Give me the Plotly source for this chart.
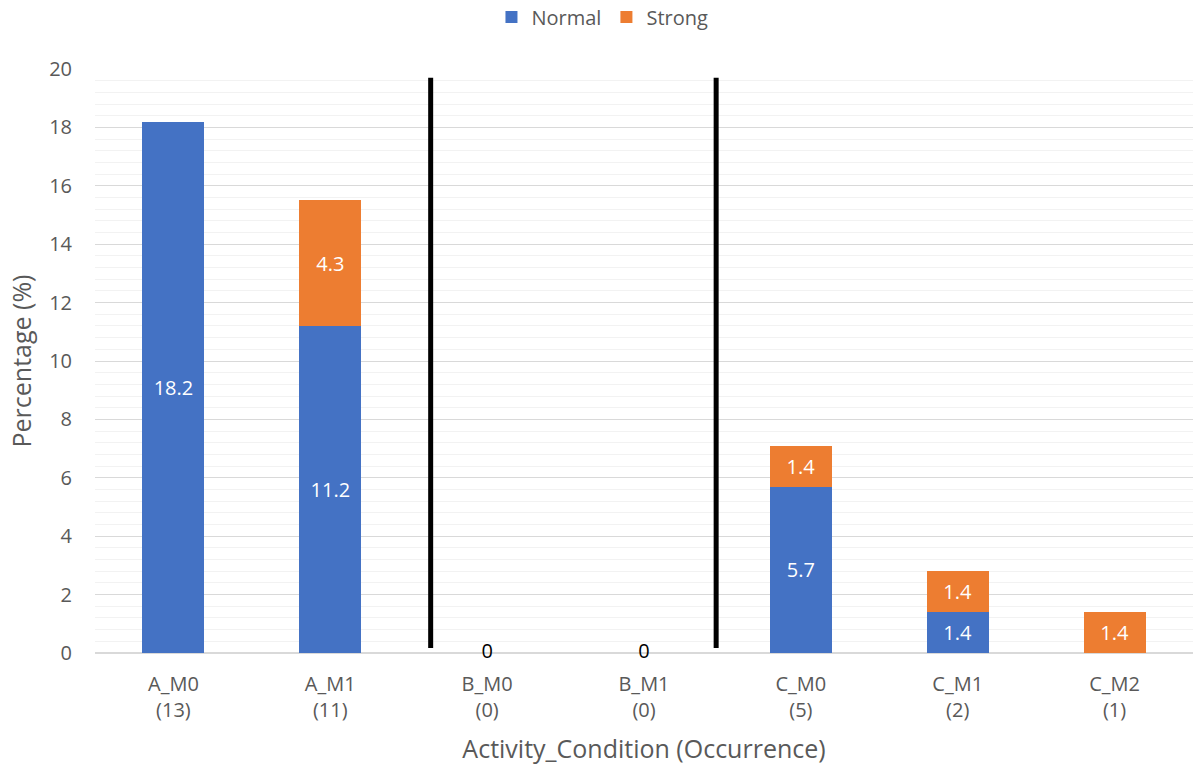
import plotly.graph_objects as go

categories = ["A_M0", "A_M1", "B_M0", "B_M1", "C_M0", "C_M1", "C_M2"]
occurrences = [13, 11, 0, 0, 5, 2, 1]
normal = [18.2, 11.2, 0, 0, 5.7, 1.4, None]
strong = [None, 4.3, None, None, 1.4, 1.4, 1.4]

# group separators, in category-index units
separators = [1.64, 3.46]

tick_text = [f"{c}<br>({n})" for c, n in zip(categories, occurrences)]
x_idx = list(range(len(categories)))

BLUE = "#4472C4"
ORANGE = "#ED7D31"
GRAY = "#595959"
FONT = "Open Sans"


def labels(vals):
    return [("" if (v is None or v == 0) else f"{v:g}") for v in vals]


fig = go.Figure()
fig.add_trace(go.Bar(
    name="Normal", x=x_idx, y=normal, marker_color=BLUE, marker_line_width=0,
    text=labels(normal), textposition="inside", insidetextanchor="middle",
    textfont=dict(color="white", size=20, family=FONT),
))
fig.add_trace(go.Bar(
    name="Strong", x=x_idx, y=strong, marker_color=ORANGE, marker_line_width=0,
    text=labels(strong), textposition="inside", insidetextanchor="middle",
    textfont=dict(color="white", size=20, family=FONT),
))

# labels for the zero-height bars, sitting on the baseline
zero_x = [i for i, v in enumerate(normal) if v == 0]
zero_y = [normal[i] for i in zero_x]
fig.add_trace(go.Scatter(
    x=zero_x, y=zero_y, mode="text", text=[f"{v:g}" for v in zero_y],
    textposition="middle center", textfont=dict(color="black", size=20, family=FONT),
    showlegend=False, hoverinfo="skip", cliponaxis=False,
))

for s in separators:
    fig.add_shape(type="line", x0=s, x1=s, y0=0.17, y1=19.7, xref="x", yref="y",
                  line=dict(color="black", width=5))

fig.update_layout(
    width=1193, height=771,
    margin=dict(l=95, r=0, t=69, b=118),
    barmode="stack", bargap=0.605,
    plot_bgcolor="white", paper_bgcolor="white",
    font=dict(family=FONT, color=GRAY, size=20),
    legend=dict(orientation="h", x=0.505, xanchor="center", xref="container",
                y=1 - 17 / 771, yanchor="middle", yref="container",
                font=dict(size=20, color=GRAY), traceorder="normal",
                itemwidth=30, tracegroupgap=0),
    uniformtext=dict(mode=False),
)
fig.update_xaxes(
    tickmode="array", tickvals=x_idx, ticktext=tick_text,
    range=[-0.5, len(categories) - 0.5],
    showline=False, showgrid=False, ticks="", ticklabelstandoff=17,
    tickfont=dict(size=20, color=GRAY, family=FONT),
    title=dict(text="Activity_Condition (Occurrence)", font=dict(size=25, color=GRAY, family=FONT),
               standoff=18),
)
fig.update_yaxes(
    range=[0, 20], dtick=2, tick0=0,
    showgrid=True, gridcolor="#D9D9D9", gridwidth=1.3,
    minor=dict(dtick=0.4, showgrid=True, gridcolor="#F2F2F2", gridwidth=1.3),
    zeroline=True, zerolinecolor="#D9D9D9", zerolinewidth=1.5,
    showline=False, ticks="", ticklabelstandoff=22,
    tickfont=dict(size=20, color=GRAY, family=FONT),
    title=dict(text="Percentage (%)", font=dict(size=25, color=GRAY, family=FONT), standoff=10),
)

fig.write_html("out.html")
